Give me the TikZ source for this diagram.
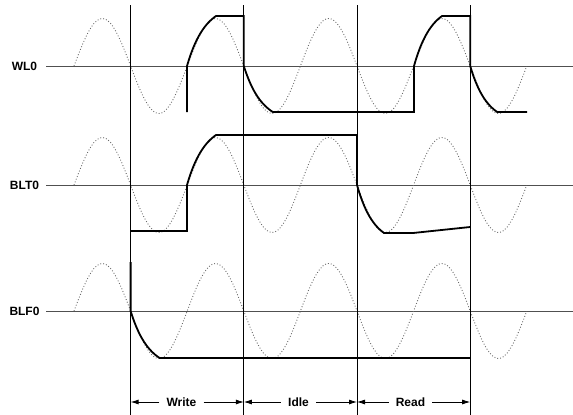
\documentclass[tikz,border=0pt]{standalone}
\usepackage{fontspec}
\setsansfont{Liberation Sans}
\usepackage{tikz}
\usetikzlibrary{arrows.meta,positioning}
\definecolor{AxisGray}{HTML}{505050}
\definecolor{ClockGray}{HTML}{6A6A6A}
\tikzset{
  axisline/.style={draw=AxisGray,line width=0.8pt},
  phaseline/.style={draw=black,line width=0.8pt},
  clock/.style={draw=ClockGray,dotted,line width=0.9pt},
  trace/.style={draw=black,line width=1.8pt,line join=miter},
  rcplot/.style={domain=0:1,samples=16},
  signal/.style={font=\sffamily\bfseries\fontsize{12}{14}\selectfont,inner sep=0pt},
  phase/.style={font=\sffamily\bfseries\fontsize{12}{14}\selectfont,inner xsep=7pt},
  span/.style={-{Latex[length=8pt,width=5pt]},draw=black,line width=0.8pt},
  declare function={rc(\t)=(1-exp(-1.6*\t))/(1-exp(-1.6));}
}

\begin{document}
\begin{tikzpicture}[x=1pt,y=-1pt]
  \useasboundingbox (0,0) rectangle (573,415);
  % signal names and axes
  \node[signal] (wl)  at (24.5,66)  {WL0};
  \node[signal] (blt) at (24.5,185) {BLT0};
  \node[signal] (blf) at (24.5,311) {BLF0};
  \foreach \yy in {66,185,311}
    \draw[axisline] (46,\yy) -- (573,\yy);
  \foreach \yy in {66,185,311}
    \draw[clock] plot[domain=0:8,samples=161] ({74+56.6*\x},{\yy-47.5*sin(180*\x)});
  \foreach \xx [count=\i] in {130.6,243.8,357,470.2} {
    \draw[phaseline] (\xx,5) -- (\xx,415);
    \coordinate (m\i) at (\xx,402);
  }
  % WL0
  \draw[trace] (187,112) -- (187,66)
    -- plot[rcplot] ({187+29*\x},{66-50*rc(\x)})
    -- (243.8,16) -- (243.8,66)
    -- plot[rcplot] ({243.8+29*\x},{66+46*rc(\x)})
    -- (414,112) -- (414,66)
    -- plot[rcplot] ({414+28*\x},{66-50*rc(\x)})
    -- (470.2,16) -- (470.2,66)
    -- plot[rcplot] ({470.2+27*\x},{66+46*rc(\x)})
    -- (527,112);
  % BLT0
  \draw[trace] (130.6,231) -- (187,231) -- (187,185)
    -- plot[rcplot] ({187+29*\x},{185-50*rc(\x)})
    -- (357,135) -- (357,185)
    -- plot[rcplot] ({357+27*\x},{185+48*rc(\x)})
    -- (413,233) -- (470.2,227);
  % BLF0
  \draw[trace] (130.6,262) -- (130.6,311)
    -- plot[rcplot] ({130.6+29*\x},{311+47*rc(\x)})
    -- (470.2,358);
  % phases
  \node[phase] (write) at (181.5,402) {Write};
  \node[phase] (idle)  at (298.5,402) {Idle};
  \node[phase] (read)  at (410.5,402) {Read};
  \draw[span] (write.west) -- (m1);
  \draw[span] (write.east) -- (m2);
  \draw[span] (idle.west) -- (m2);
  \draw[span] (idle.east) -- (m3);
  \draw[span] (read.west) -- (m3);
  \draw[span] (read.east) -- (m4);
\end{tikzpicture}
\end{document}
